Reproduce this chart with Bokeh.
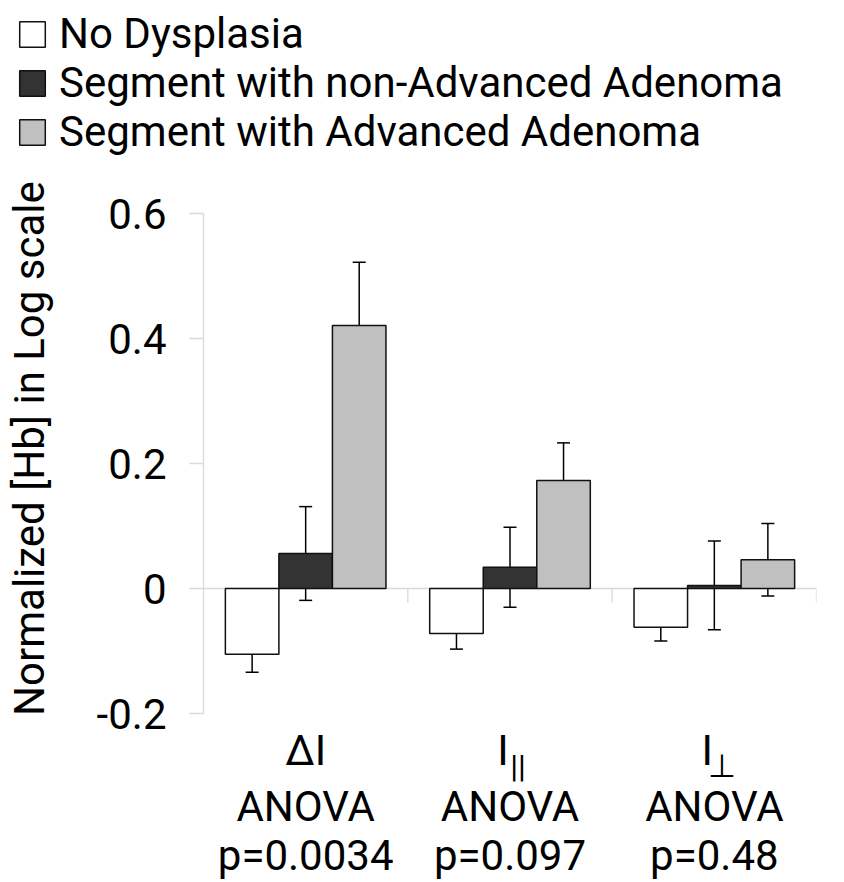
from bokeh.plotting import figure
from bokeh.layouts import column
from bokeh.models import (Range1d, Legend, LegendItem, Whisker, TeeHead, ColumnDataSource,
                          Span, FixedTicker)
from bokeh.embed import file_html
from bokeh.resources import INLINE
from bokeh.core.properties import value

# ---- data ----
cat_main = ["ΔI", "I", "I"]
cat_sub = ["", "||", "⊥"]
anova_text = ["ANOVA", "ANOVA", "ANOVA"]
anova_p = ["p=0.0034", "p=0.097", "p=0.48"]
series = ["No Dysplasia", "Segment with non-Advanced Adenoma", "Segment with Advanced Adenoma"]
no_dysplasia = [-0.105, -0.072, -0.062]
no_dysplasia_err = [0.029, 0.025, 0.022]
non_advanced = [0.056, 0.034, 0.005]
non_advanced_err = [0.075, 0.064, 0.071]
advanced = [0.421, 0.173, 0.046]
advanced_err = [0.101, 0.060, 0.058]
y_ticks = [-0.2, 0, 0.2, 0.4, 0.6]
y_tick_labels = ["-0.2", "0", "0.2", "0.4", "0.6"]
y_title = "Normalized [Hb] in Log scale"

FONT = "Roboto"
FS = "42px"
fills = ["#ffffff", "#333333", "#c0c0c0"]
AXIS_GREY = "#d9d9d9"

# ---- layout (pixels) ----
W = 844
LEG_H = 160               # legend strip on top
MAIN_H = 882 - LEG_H
BL, BR = 203, 28          # frame left / right borders of the main chart
AX_TOP, AX_BOT = 213, 713  # page y of the value-axis ends
px_per_unit = (AX_BOT - AX_TOP) / (y_ticks[-1] - y_ticks[0])
y_end = y_ticks[-1] + (AX_TOP - LEG_H) / px_per_unit
y_start = y_ticks[0] - (882 - AX_BOT) / px_per_unit
frame_w = W - BL - BR
units_per_px_x = len(cat_main) / frame_w

p = figure(width=W, height=MAIN_H, output_backend="svg", toolbar_location=None,
           x_range=Range1d(0, len(cat_main)), y_range=Range1d(y_start, y_end),
           x_axis_location=None,
           min_border_left=BL, min_border_right=BR, min_border_top=0, min_border_bottom=0)
p.outline_line_color = None
p.grid.visible = False
p.background_fill_color = "white"
p.border_fill_color = "white"

# the axis title is centred on the plot frame; pad its start so that the visible
# words sit centred on the value axis (frame centre -> axis centre)
frame_mid = LEG_H + MAIN_H / 2
axis_mid = (AX_TOP + AX_BOT) / 2 - 13
pad = "\u00a0" * round(2 * (frame_mid - axis_mid) / (0.2476 * 42))

yax = p.yaxis[0]
yax.bounds = (y_ticks[0], y_ticks[-1])
yax.ticker = FixedTicker(ticks=y_ticks)
yax.major_label_overrides = {t: l for t, l in zip(y_ticks, y_tick_labels)}
yax.axis_line_color = AXIS_GREY
yax.axis_line_width = 1.3
yax.major_tick_line_color = AXIS_GREY
yax.major_tick_line_width = 1.3
yax.major_tick_in = 0
yax.major_tick_out = 14
yax.minor_tick_line_color = None
yax.major_label_standoff = 23
yax.major_label_text_font = FONT
yax.major_label_text_font_size = FS
yax.major_label_text_color = "black"
yax.axis_label = pad + y_title
yax.axis_label_text_font = FONT
yax.axis_label_text_font_size = FS
yax.axis_label_text_font_style = "normal"
yax.axis_label_text_color = "black"
yax.axis_label_standoff = 40

# zero line (category axis) and its tick marks between categories
p.add_layout(Span(location=0, dimension="width", line_color=AXIS_GREY, line_width=1.3, level="underlay"))
tick_len = 14 / px_per_unit
bounds = list(range(1, len(cat_main) + 1))
p.segment(x0=bounds, y0=[0] * len(bounds), x1=bounds, y1=[-tick_len] * len(bounds),
          line_color=AXIS_GREY, line_width=1.3, level="underlay")

centers = [i + 0.5 for i in range(len(cat_main))]
bar_w = 0.262
vals = [no_dysplasia, non_advanced, advanced]
errs = [no_dysplasia_err, non_advanced_err, advanced_err]
sources = []
for k in range(3):
    xs = [c + (k - 1) * bar_w for c in centers]
    src = ColumnDataSource(dict(x=xs, top=vals[k],
                                upper=[v + e for v, e in zip(vals[k], errs[k])],
                                lower=[v - e for v, e in zip(vals[k], errs[k])]))
    sources.append(src)
    p.vbar(x="x", top="top", bottom=0, width=bar_w, source=src,
           fill_color=fills[k], line_color="#111111", line_width=1.5)
    p.add_layout(Whisker(base="x", upper="upper", lower="lower", source=src,
                         line_color="black", line_width=1.5,
                         upper_head=TeeHead(size=13, line_color="black", line_width=1.5),
                         lower_head=TeeHead(size=13, line_color="black", line_width=1.5)))

# category labels under the value axis (positioned from the axis' lower bound)
base = [y_ticks[0]] * len(centers)
main_x = [c - (7 * units_per_px_x if s else 0) for c, s in zip(centers, cat_sub)]
p.text(x=main_x, y=base, text=cat_main, y_offset=37, text_align="center", text_baseline="middle",
       text_font=value(FONT), text_font_size=FS, text_color="black")
sub_x = [c + 8 * units_per_px_x for c, s in zip(centers, cat_sub) if s]
p.text(x=sub_x, y=base[:len(sub_x)], text=[s for s in cat_sub if s], y_offset=52,
       text_align="center", text_baseline="middle",
       text_font=value(FONT), text_font_size="32px", text_color="black")
p.text(x=centers, y=base, text=anova_text, y_offset=93, text_align="center", text_baseline="middle",
       text_font=value(FONT), text_font_size=FS, text_color="black")
p.text(x=centers, y=base, text=anova_p, y_offset=142, text_align="center", text_baseline="middle",
       text_font=value(FONT), text_font_size=FS, text_color="black")

# ---- legend strip: the same series glyphs (hidden), used only for their swatches ----
lg = figure(width=W, height=LEG_H, output_backend="svg", toolbar_location=None,
            x_range=Range1d(0, len(cat_main)), y_range=Range1d(0, 1),
            x_axis_location=None, y_axis_location=None,
            min_border_left=0, min_border_right=0, min_border_top=0, min_border_bottom=0)
lg.outline_line_color = None
lg.grid.visible = False
for fig in (lg, p):
    if "frame_align" in fig.properties():
        fig.frame_align = False
leg_renderers = []
for k in range(3):
    leg_renderers.append(lg.vbar(x="x", top="top", bottom=0, width=bar_w, source=sources[k],
                                 fill_color=fills[k], line_color="#111111", line_width=1.5,
                                 visible=False))
legend = Legend(items=[LegendItem(label=s, renderers=[r]) for s, r in zip(series, leg_renderers)],
                location=(16, 4), orientation="vertical", click_policy="none",
                label_text_font=FONT, label_text_font_size=FS, label_text_color="black",
                glyph_width=32, glyph_height=32, label_standoff=11, label_height=47,
                spacing=-2, padding=0, margin=0,
                border_line_color=None, background_fill_alpha=0)
lg.add_layout(legend, "center")

layout = column(lg, p, spacing=0)
open("out.html", "w").write(file_html(layout, INLINE))
